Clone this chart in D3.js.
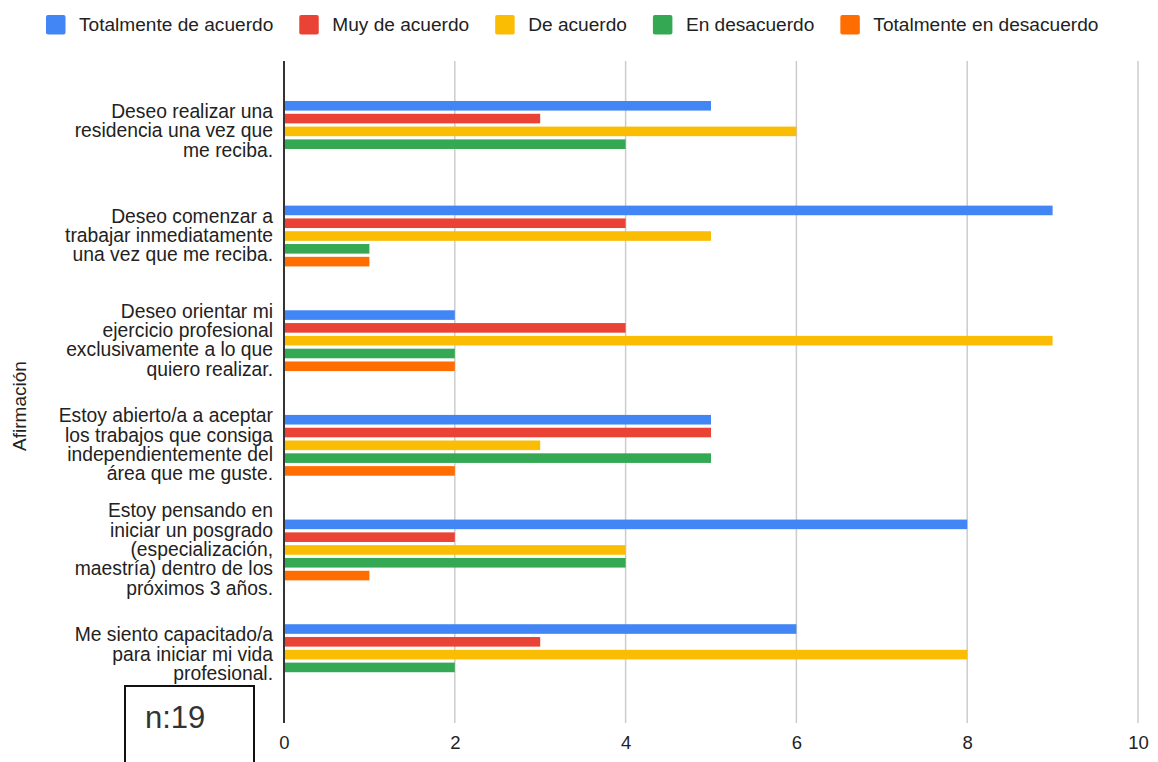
<!DOCTYPE html>
<html>
<head>
<meta charset="utf-8">
<script src="https://cdn.jsdelivr.net/npm/d3@7"></script>
<style>
  body { margin: 0; background: #fff; }
  svg { font-family: Arial, "Liberation Sans", sans-serif; }
</style>
</head>
<body>
<div id="chart"></div>
<script>
// Category labels (already broken into lines as in the chart)
const categories = [
    ["Deseo realizar una", "residencia una vez que", "me reciba."],
    ["Deseo comenzar a", "trabajar inmediatamente", "una vez que me reciba."],
    ["Deseo orientar mi", "ejercicio profesional", "exclusivamente a lo que", "quiero realizar."],
    ["Estoy abierto/a a aceptar", "los trabajos que consiga", "independientemente del", "área que me guste."],
    ["Estoy pensando en", "iniciar un posgrado", "(especialización,", "maestría) dentro de los", "próximos 3 años."],
    ["Me siento capacitado/a", "para iniciar mi vida", "profesional."]
];

const seriesNames = ["Totalmente de acuerdo", "Muy de acuerdo", "De acuerdo", "En desacuerdo", "Totalmente en desacuerdo"];
const seriesColors = ["#4285f4", "#ea4335", "#fbbc04", "#34a853", "#ff6d01"];

const totalmenteDeAcuerdo = [5, 9, 2, 5, 8, 6];
const muyDeAcuerdo = [3, 4, 4, 5, 2, 3];
const deAcuerdo = [6, 5, 9, 3, 4, 8];
const enDesacuerdo = [4, 1, 2, 5, 4, 2];
const totalmenteEnDesacuerdo = [0, 1, 2, 2, 1, 0];

const xTicks = [0, 2, 4, 6, 8, 10];
const axisTitle = "Afirmación";
const sampleNote = "n:19";

const seriesValues = [totalmenteDeAcuerdo, muyDeAcuerdo, deAcuerdo, enDesacuerdo, totalmenteEnDesacuerdo];

const W = 1158, H = 762;
const plotLeft = 284, plotRight = 1138, plotTop = 61, plotBottom = 723;

const svg = d3.select("#chart")
    .append("svg")
    .attr("width", W)
    .attr("height", H);

const x = d3.scaleLinear().domain([0, 10]).range([plotLeft, plotRight]);

const y = d3.scaleBand()
    .domain(d3.range(categories.length))
    .range([plotTop + 1, plotBottom + 1])
    .paddingInner(0)
    .paddingOuter(0.163);

const groupSpan = 64;
const ySub = d3.scaleBand()
    .domain(d3.range(seriesNames.length))
    .range([(y.bandwidth() - groupSpan) / 2, (y.bandwidth() + groupSpan) / 2])
    .paddingInner(0.25)
    .paddingOuter(0.125);

// Gridlines
svg.append("g")
    .selectAll("line")
    .data(xTicks.filter(d => d > 0))
    .enter().append("line")
    .attr("x1", d => x(d)).attr("x2", d => x(d))
    .attr("y1", plotTop).attr("y2", plotBottom)
    .attr("stroke", "#cccccc")
    .attr("stroke-width", 1.5);

// Bars
categories.forEach((c, i) => {
    const g = svg.append("g").attr("transform", `translate(0,${y(i)})`);
    g.selectAll("rect")
        .data(seriesValues.map((vals, s) => ({ s, v: vals[i] })).filter(d => d.v > 0))
        .enter().append("rect")
        .attr("x", x(0))
        .attr("y", d => ySub(d.s))
        .attr("width", d => x(d.v) - x(0))
        .attr("height", ySub.bandwidth())
        .attr("fill", d => seriesColors[d.s]);
});

// Zero axis line
svg.append("line")
    .attr("x1", x(0)).attr("x2", x(0))
    .attr("y1", plotTop).attr("y2", plotBottom)
    .attr("stroke", "#333")
    .attr("stroke-width", 2);

// X tick labels
const xAxis = svg.append("g")
    .attr("transform", `translate(0,${plotBottom})`)
    .call(d3.axisBottom(x).tickValues(xTicks).tickSize(0).tickPadding(26).tickFormat(d3.format("d")));
xAxis.select(".domain").remove();
xAxis.selectAll("text")
    .attr("dy", 0)
    .style("font-size", "18.5px")
    .style("font-family", "Arial, 'Liberation Sans', sans-serif")
    .attr("fill", "#222");

// Category labels
const lineH = 19.3;
categories.forEach((lines, i) => {
    const cy = y(i) + y.bandwidth() / 2;
    const t = svg.append("text")
        .attr("text-anchor", "end")
        .style("font-size", "19.3px")
        .attr("fill", "#222");
    lines.forEach((ln, k) => {
        t.append("tspan")
            .attr("x", 273)
            .attr("y", cy + (k - (lines.length - 1) / 2) * lineH + 6)
            .text(ln);
    });
});

// Axis title
svg.append("text")
    .attr("transform", `translate(26,406) rotate(-90)`)
    .attr("text-anchor", "middle")
    .style("font-size", "19px")
    .attr("fill", "#222")
    .text(axisTitle);

// Legend
let lx = 46;
seriesNames.forEach((name, s) => {
    svg.append("rect")
        .attr("x", lx).attr("y", 15)
        .attr("width", 19.5).attr("height", 19.5)
        .attr("rx", 2)
        .attr("fill", seriesColors[s]);
    const t = svg.append("text")
        .attr("x", lx + 33)
        .attr("y", 31)
        .style("font-size", "19.1px")
        .attr("fill", "#222")
        .text(name);
    lx += 33 + t.node().getComputedTextLength() + 26;
});

// n note box
svg.append("rect")
    .attr("x", 125).attr("y", 686)
    .attr("width", 129).attr("height", 90)
    .attr("fill", "none")
    .attr("stroke", "#111")
    .attr("stroke-width", 2);
svg.append("text")
    .attr("x", 145).attr("y", 728)
    .style("font-size", "31px")
    .attr("fill", "#333")
    .text(sampleNote);
</script>
</body>
</html>
